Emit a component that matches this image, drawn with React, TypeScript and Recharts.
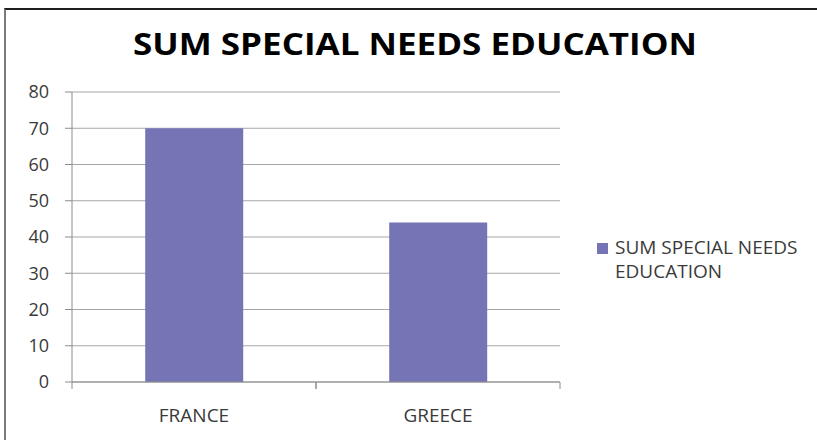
import { BarChart, Bar, XAxis, YAxis, CartesianGrid } from "recharts";

const countries = ["FRANCE", "GREECE"];
const specialNeeds = [70, 44];
const yTicks = [0, 10, 20, 30, 40, 50, 60, 70, 80];
const seriesName = "SUM SPECIAL NEEDS EDUCATION";

const data = countries.map((country, i) => ({ country, value: specialNeeds[i] }));

const FONT = "'Open Sans', 'Noto Sans', sans-serif";
const TEXT = "#3a3a3a";
const AXIS = "#8c8c8c";
const BAR = "#7575b6";
const X_TICK = 7;
const X_MARGIN = 20;

function CategoryTick(props: any) {
  const { x, y, payload } = props;
  const half = payload.offset ?? 0;
  const top = y - X_MARGIN - X_TICK;
  return (
    <g>
      <line x1={x - half} x2={x - half} y1={top} y2={top + X_TICK} stroke={AXIS} />
      <line x1={x + half} x2={x + half} y1={top} y2={top + X_TICK} stroke={AXIS} />
      <text x={x} y={y} dy="0.71em" textAnchor="middle" fill={TEXT} fontSize={19} fontFamily={FONT}>
        {payload.value}
      </text>
    </g>
  );
}

function LegendBox() {
  return (
    <div
      style={{
        position: "absolute",
        left: 597,
        top: 235,
        display: "flex",
        alignItems: "flex-start",
        fontFamily: FONT,
        fontSize: 19,
        color: TEXT,
        lineHeight: "24px",
      }}
    >
      <span style={{ width: 11, height: 11, background: BAR, marginTop: 8, marginRight: 7, flex: "none" }} />
      <span>
        SUM SPECIAL NEEDS
        <br />
        EDUCATION
      </span>
    </div>
  );
}

export default function App() {
  return (
    <div style={{ position: "absolute", left: 0, top: 0, width: 817, height: 440, background: "#fff", overflow: "hidden" }}>
      <div
        style={{
          position: "absolute",
          left: 4,
          top: 8,
          width: 813,
          height: 432,
          borderTop: "2px solid #1e1e1e",
          borderLeft: "2px solid #7a7a7a",
          boxSizing: "border-box",
        }}
      />
      <svg style={{ position: "absolute", left: 0, top: 0 }} width={817} height={70}>
        <text
          x={133}
          y={55}
          textLength={564}
          lengthAdjust="spacingAndGlyphs"
          fontFamily={FONT}
          fontWeight={700}
          fontSize={31}
          fill="#000"
        >
          {seriesName}
        </text>
      </svg>
      <div style={{ position: "absolute", left: 0, top: 0 }}>
        <BarChart
          width={817}
          height={440}
          data={data}
          margin={{ top: 92, right: 257, bottom: 0, left: 0 }}
          barCategoryGap="30%"
        >
          <CartesianGrid vertical={false} stroke="#a6a6a6" />
          <XAxis
            dataKey="country"
            height={58}
            stroke={AXIS}
            tickLine={false}
            tickSize={X_TICK}
            tickMargin={X_MARGIN}
            tick={<CategoryTick />}
            interval={0}
          />
          <YAxis
            width={72}
            domain={[0, 80]}
            ticks={yTicks}
            stroke={AXIS}
            tickSize={7}
            tickMargin={16}
            tick={{ fill: TEXT, fontSize: 18, fontFamily: FONT }}
          />
          <Bar dataKey="value" name={seriesName} fill={BAR} isAnimationActive={false} />
        </BarChart>
      </div>
      <LegendBox />
    </div>
  );
}
